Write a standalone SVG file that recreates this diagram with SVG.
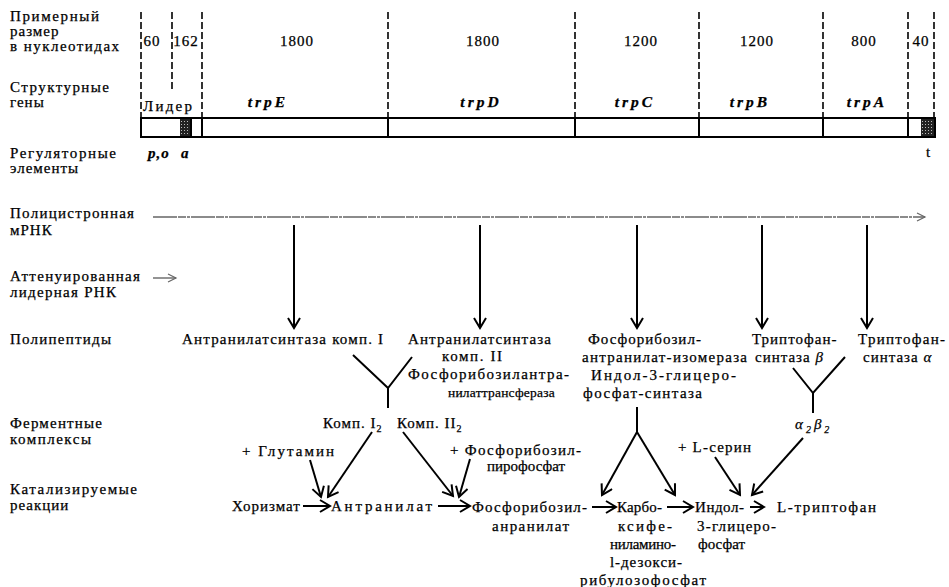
<svg xmlns="http://www.w3.org/2000/svg" width="949" height="587" viewBox="0 0 949 587">
<defs>
<style>
.t{font-family:"Liberation Serif","DejaVu Serif",serif;font-size:15px;letter-spacing:1px;fill:#000;stroke:#000;stroke-width:0.25}
.n{letter-spacing:0}
.g{font-weight:bold;font-style:italic;letter-spacing:3px;font-size:15.5px}
.bi{font-weight:bold;font-style:italic}
.m{text-anchor:middle}
.dash{stroke:#000;stroke-width:1.6;stroke-dasharray:7 3;fill:none}
.bar{fill:none;stroke:#000;stroke-width:2}
.c{stroke:#000;stroke-width:2;fill:none}
.a{marker-end:url(#ah)}
.gray{stroke:#666;stroke-width:1.4;stroke-dasharray:24 1 8 1 3 1;fill:none}
</style>
<marker id="ah" markerUnits="userSpaceOnUse" markerWidth="14" markerHeight="16" refX="11" refY="7" orient="auto">
<path d="M1,1 L11,7 L1,13" fill="none" stroke="#000" stroke-width="2"/>
</marker>
<marker id="ahg" markerUnits="userSpaceOnUse" markerWidth="12" markerHeight="12" refX="9" refY="5" orient="auto">
<path d="M1,1 L9,5 L1,9" fill="none" stroke="#666" stroke-width="1.2"/>
</marker>
<pattern id="st" width="3" height="3" patternUnits="userSpaceOnUse">
<rect width="3" height="3" fill="#222"/>
<rect x="1" y="1" width="1" height="1" fill="#bbb"/>
</pattern>
</defs>

<g id="row-labels" class="t">
<text x="10" y="21" textLength="90">Примерный</text>
<text x="10" y="36">размер</text>
<text x="10" y="51" textLength="110">в нуклеотидах</text>
<text x="10" y="92" textLength="100">Структурные</text>
<text x="10" y="107">гены</text>
<text x="10" y="158" textLength="107">Регуляторные</text>
<text x="10" y="173">элементы</text>
<text x="10" y="218" textLength="125">Полицистронная</text>
<text x="10" y="235">мРНК</text>
<text x="10" y="281" textLength="131">Аттенуированная</text>
<text x="10" y="297" textLength="107">лидерная РНК</text>
<text x="10" y="344" textLength="102">Полипептиды</text>
<text x="10" y="428" textLength="93">Ферментные</text>
<text x="10" y="444" textLength="82">комплексы</text>
<text x="10" y="494" textLength="128">Катализируемые</text>
<text x="10" y="510">реакции</text>
</g>

<g id="gene-map">
<g id="dividers">
<line class="dash" x1="141" y1="12" x2="141" y2="118"/>
<line class="dash" x1="172" y1="12" x2="172" y2="92"/>
<line class="dash" x1="202" y1="12" x2="202" y2="118"/>
<line class="dash" x1="388" y1="12" x2="388" y2="118"/>
<line class="dash" x1="575" y1="12" x2="575" y2="118"/>
<line class="dash" x1="699" y1="12" x2="699" y2="118"/>
<line class="dash" x1="823" y1="12" x2="823" y2="118"/>
<line class="dash" x1="908" y1="12" x2="908" y2="118"/>
<line class="dash" x1="934" y1="12" x2="934" y2="118"/>
</g>
<g id="sizes" class="t m">
<text x="152" y="46">60</text>
<text x="186" y="46">162</text>
<text x="297" y="46">1800</text>
<text x="483" y="46">1800</text>
<text x="641" y="46">1200</text>
<text x="757" y="46">1200</text>
<text x="864" y="46">800</text>
<text x="921" y="46">40</text>
</g>
<g id="genes" class="t">
<text x="143" y="111" textLength="50">Лидер</text>
<text class="g m" x="268" y="107">trpE</text>
<text class="g m" x="481" y="107">trpD</text>
<text class="g m" x="635" y="107">trpC</text>
<text class="g m" x="750" y="107">trpB</text>
<text class="g m" x="867" y="107">trpA</text>
</g>
<g id="bar">
<rect x="180" y="119" width="11" height="17" fill="url(#st)"/>
<rect x="921" y="119" width="13" height="17" fill="url(#st)"/>
<rect class="bar" x="141" y="118" width="794" height="19"/>
<line class="bar" x1="191" y1="118" x2="191" y2="137"/>
<line class="bar" x1="202" y1="118" x2="202" y2="137"/>
<line class="bar" x1="388" y1="118" x2="388" y2="137"/>
<line class="bar" x1="575" y1="118" x2="575" y2="137"/>
<line class="bar" x1="699" y1="118" x2="699" y2="137"/>
<line class="bar" x1="823" y1="118" x2="823" y2="137"/>
<line class="bar" x1="908" y1="118" x2="908" y2="137"/>
</g>
<g id="regulatory" class="t">
<text class="bi" x="148" y="158">p,o</text>
<text class="bi" x="181" y="158">a</text>
<text x="926" y="157">t</text>
</g>
</g>

<g id="connectors">
<line class="gray" x1="153" y1="217" x2="925" y2="217" marker-end="url(#ahg)"/>
<line class="gray" x1="153" y1="278" x2="176" y2="278" marker-end="url(#ahg)"/>
<line class="c a" x1="294" y1="225" x2="294" y2="328"/>
<line class="c a" x1="480" y1="225" x2="480" y2="328"/>
<line class="c a" x1="637" y1="225" x2="637" y2="328"/>
<line class="c a" x1="762" y1="225" x2="762" y2="328"/>
<line class="c a" x1="867" y1="225" x2="867" y2="328"/>
<path class="c" d="M353,355 L388,388 L412,357 M388,388 L388,408"/>
<line class="c a" x1="372" y1="432" x2="328" y2="497"/>
<line class="c a" x1="403" y1="432" x2="453" y2="496"/>
<line class="c a" x1="310" y1="460" x2="321" y2="497"/>
<line class="c a" x1="470" y1="459" x2="459" y2="497"/>
<path class="c" d="M637,407 L637,432"/>
<line class="c a" x1="637" y1="432" x2="602" y2="495"/>
<line class="c a" x1="637" y1="432" x2="675" y2="495"/>
<path class="c" d="M793,368 L813,393 L845,357 M813,393 L813,413"/>
<line class="c a" x1="803" y1="438" x2="752" y2="495"/>
<line class="c a" x1="715" y1="457" x2="740" y2="495"/>
<line class="c a" x1="303" y1="506" x2="330" y2="506"/>
<line class="c a" x1="438" y1="506" x2="470" y2="506"/>
<line class="c a" x1="592" y1="507" x2="616" y2="507"/>
<line class="c a" x1="667" y1="507" x2="693" y2="507"/>
<line class="c a" x1="750" y1="507" x2="764" y2="507"/>
</g>

<g id="polypeptides" class="t">
<g id="p-trpE"><text x="182" y="344" textLength="202">Антранилатсинтаза комп. I</text></g>
<g id="p-trpD">
<text x="408" y="344" textLength="144">Антранилатсинтаза</text>
<text x="442" y="361" textLength="61">комп. II</text>
<text x="408" y="379" textLength="162">Фосфорибозилантра-</text>
<text x="448" y="397" style="font-size:13.5px;letter-spacing:0.2px">нилаттрансфераза</text>
</g>
<g id="p-trpC">
<text x="588" y="344">Фосфорибозил-</text>
<text x="582" y="362" textLength="166">антранилат-изомераза</text>
<text x="591" y="380" textLength="146">Индол-3-глицеро-</text>
<text x="583" y="398" textLength="120">фосфат-синтаза</text>
</g>
<g id="p-trpB">
<text x="752" y="344">Триптофан-</text>
<text x="755" y="362">синтаза <tspan font-style="italic">β</tspan></text>
</g>
<g id="p-trpA">
<text x="858" y="344" textLength="88">Триптофан-</text>
<text x="863" y="362">синтаза <tspan font-style="italic">α</tspan></text>
</g>
</g>

<g id="complexes" class="t">
<g id="c-anthranilate-synthase"><text x="323" y="428">Комп. I<tspan dy="4" font-size="10">2</tspan><tspan x="397" dy="-4">Комп. II</tspan><tspan dy="4" font-size="10">2</tspan></text></g>
<g id="c-tryptophan-synthase"><text x="795" y="429" font-style="italic" letter-spacing="3">α<tspan dy="4" font-size="10">2</tspan><tspan dy="-4">β</tspan><tspan dy="4" font-size="10">2</tspan></text></g>
</g>

<g id="substrates" class="t">
<g id="s-glutamine"><text x="242" y="456" textLength="93">+ Глутамин</text></g>
<g id="s-prpp"><text x="450" y="455" textLength="132">+ Фосфорибозил-</text><text class="n" x="487" y="471">пирофосфат</text></g>
<g id="s-serine"><text x="678" y="452" textLength="74">+ L-серин</text></g>
</g>

<g id="reactions" class="t">
<g id="r-chorismate"><text x="232" y="511">Хоризмат</text></g>
<g id="r-anthranilate"><text x="331" y="511" textLength="102">Антранилат</text></g>
<g id="r-pra"><text x="472" y="512" textLength="116">Фосфорибозил-</text><text x="492" y="531" textLength="78">анранилат</text></g>
<g id="r-cdrp">
<text x="617" y="512" textLength="46">Карбо-</text>
<text x="618" y="531" textLength="55">ксифе-</text>
<text x="610" y="549" textLength="67">ниламино-</text>
<text x="610" y="567" textLength="73">l-дезокси-</text>
<text x="580" y="585" textLength="127">рибулозофосфат</text>
</g>
<g id="r-igp">
<text x="695" y="512" textLength="50">Индол-</text>
<text x="697" y="531" textLength="80">3-глицеро-</text>
<text class="n" x="698" y="549">фосфат</text>
</g>
<g id="r-trp"><text x="777" y="512" textLength="100">L-триптофан</text></g>
</g>
</svg>
